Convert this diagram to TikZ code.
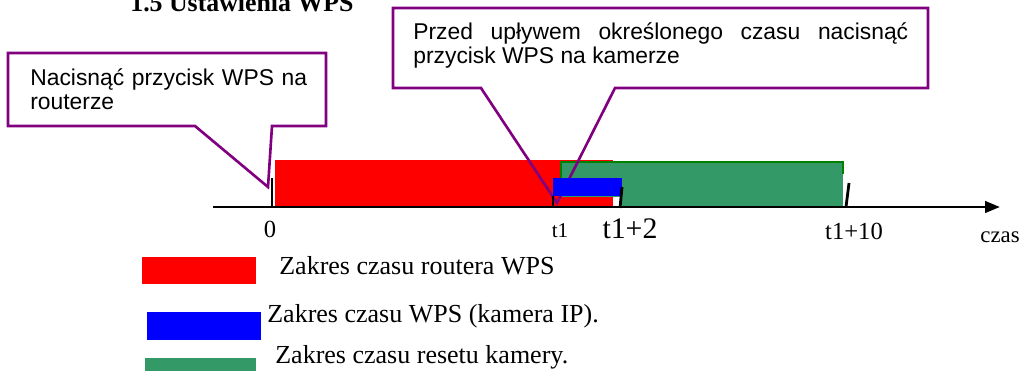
\documentclass[tikz,border=0pt]{standalone}
\usepackage{fontspec}
\setmainfont{Liberation Serif}
\newfontfamily\arialfont{Liberation Sans}
\usetikzlibrary{arrows.meta}
\definecolor{CalloutPurple}{RGB}{128,0,128}
\definecolor{ResetGreen}{RGB}{51,153,102}
\definecolor{ResetEdge}{RGB}{0,128,0}

\begin{document}
\begin{tikzpicture}[x=0.02cm, y=-0.02cm]
	\tikzset{
		c/.style={draw=CalloutPurple, line width=1.5pt, line join=miter},
		t/.style={font=\arialfont\fontsize{13}{13.6}\selectfont, inner sep=0pt, anchor=base west},
		lab/.style={inner sep=0pt, anchor=base},
		tk/.style={draw=black, line width=1.6pt},
		leg/.style={font=\fontsize{14.8}{17}\selectfont, inner sep=0pt, anchor=base west}
	}
	\useasboundingbox (0,0) rectangle (1024,371);
	
	% title (cut by the page top)
	\node[font=\bfseries\fontsize{14.7}{17}\selectfont, inner sep=0pt, anchor=base west] (title) at (130,11.5) {1.5 Ustawienia WPS};
	
	% bars
	\fill[red] (275,160) rectangle (613,206);
	\fill[ResetGreen] (561,162) rectangle (843,197);
	\fill[ResetGreen] (621,197) rectangle (843,206);
	\draw[ResetEdge, line width=1.5pt] (561,179) -- (561,162) -- (843,162) -- (843,174);
	
	% callouts
	\coordinate (tip0) at (268,187);
	\coordinate (tip1) at (557,203);
	\draw[c] (195,126) -- (tip0) -- (272,126) -- (326,126) -- (326,53) -- (8,53) -- (8,126) -- cycle;
	\draw[c] (481,88) -- (tip1) -- (615,88) -- (928,88) -- (928,8) -- (393,8) -- (393,88) -- cycle;
	\node[t, text width=5.8cm, align=left] (txt0) at (30,86) {Nacisnąć przycisk WPS na\\routerze};
	\node[t, text width=9.9cm, align=justify] (txt1) at (413,40) {\hyphenpenalty=10000 Przed upływem określonego czasu nacisnąć przycisk WPS na kamerze};
	
	\fill[blue] (553,178) rectangle (622,196);
	
	% time axis
	\coordinate (ax0) at (213,207);
	\coordinate (ax1) at (1000,207);
	\draw[line width=1.6pt, -{Triangle[length=8.5pt, width=6.5pt]}] (ax0) -- (ax1);
	\draw[tk] (272,178) -- (272,207);
	\draw[tk] (553,196) -- (553,207);
	\draw[tk] (622,187) -- (620,208);
	\draw[tk] (849,183) -- (846,207);
	
	\node[lab, font=\fontsize{14}{16}\selectfont] (l0) at (270,237) {0};
	\node[lab, font=\fontsize{12}{14}\selectfont] (l1) at (560,237) {t1};
	\node[lab, font=\fontsize{17}{19}\selectfont] (l2) at (630,238) {t1+2};
	\node[lab, font=\fontsize{14}{16}\selectfont] (l10) at (854,239) {t1+10};
	\node[lab, font=\fontsize{13}{15}\selectfont] (lczas) at (1000,242) {czas};
	
	% legend
	\fill[red] (142,257) rectangle (256,284);
	\node[leg] (kr) at (279,275) {Zakres czasu routera WPS};
	\fill[blue] (147,312) rectangle (261,340);
	\node[leg] (kb) at (267,322) {Zakres czasu WPS (kamera IP).};
	\fill[ResetGreen] (145,358) rectangle (256,380);
	\node[leg] (kg) at (275,363) {Zakres czasu resetu kamery.};
\end{tikzpicture}
\end{document}
